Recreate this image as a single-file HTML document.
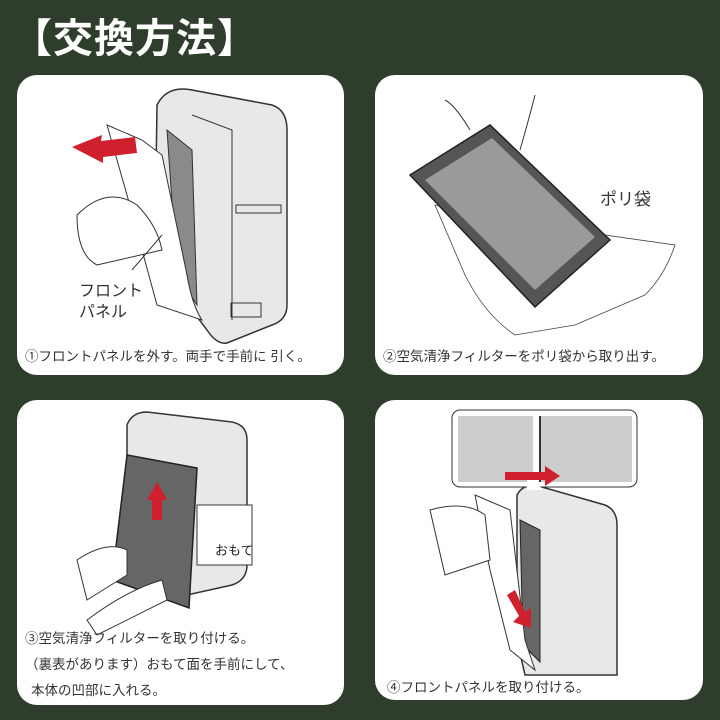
<!DOCTYPE html>
<html><head><meta charset="utf-8"><style>
body{margin:0;width:720px;height:720px;background:#2f3e2c;position:relative;overflow:hidden;font-family:"Liberation Sans","Noto Sans CJK JP",sans-serif}
.t{position:absolute;left:12px;top:6px;color:#fff;font-size:40px;font-weight:bold;letter-spacing:1px}
.p{position:absolute;background:#fff;border-radius:20px;overflow:hidden}
.c{position:absolute;font-size:13.5px;color:#333;white-space:nowrap}
svg{position:absolute;left:0;top:0}
</style></head><body>
<div class="t">【交換方法】</div>

<div class="p" style="left:17px;top:75px;width:327px;height:300px">
<svg width="327" height="300">
<path d="M140 30 Q150 10 175 15 L255 30 Q270 35 270 55 L270 230 Q270 245 255 250 L210 268 Q200 270 190 255 L145 195 Q138 185 138 170 Z" fill="#e8e8e8" stroke="#333" stroke-width="1.5"/>
<path d="M175 40 L215 55 L215 245" fill="none" stroke="#333"/>
<path d="M150 55 L175 75 L180 230 L160 200 Z" fill="#8a8a8a" stroke="#333"/>
<path d="M90 50 L125 65 L145 80 L170 200 Q175 230 185 245 L140 230 L110 120 Z" fill="#fff" stroke="#333"/>
<path d="M60 140 Q90 110 120 130 Q140 150 145 175 L80 190 Q60 180 60 140Z" fill="#fff" stroke="#333"/>
<polygon points="55,72 85,60 84,66 118,62 120,78 86,82 86,88" fill="#d0202e"/>
<rect x="219" y="130" width="45" height="8" fill="none" stroke="#333"/>
<rect x="214" y="228" width="30" height="14" fill="none" stroke="#333"/>
<line x1="115" y1="195" x2="145" y2="160" stroke="#333"/>
<text x="62" y="221" font-size="16" fill="#333" font-family="Liberation Sans,Noto Sans CJK JP,sans-serif">フロント</text>
<text x="62" y="242" font-size="16" fill="#333" font-family="Liberation Sans,Noto Sans CJK JP,sans-serif">パネル</text>
</svg>
<div class="c" style="left:8px;top:270px">①フロントパネルを外す。両手で手前に 引く。</div>
</div>

<div class="p" style="left:375px;top:75px;width:328px;height:300px">
<svg width="328" height="300">
<path d="M60 130 L160 150 L300 170 Q290 200 270 220 L200 250 L140 260 Q110 240 90 200Z" fill="#fff" stroke="#444" stroke-width="0.8"/>
<polygon points="35,100 115,50 235,165 160,232" fill="#555" stroke="#222" stroke-width="1.5"/>
<polygon points="50,105 117,63 220,162 160,215" fill="#9a9a9a"/>
<path d="M95 55 Q80 30 70 25 M145 75 Q155 40 160 20" fill="none" stroke="#333"/>
<text x="225" y="130" font-size="17" fill="#333" font-family="Liberation Sans,Noto Sans CJK JP,sans-serif">ポリ袋</text>
</svg>
<div class="c" style="left:8px;top:270px">②空気清浄フィルターをポリ袋から取り出す。</div>
</div>

<div class="p" style="left:17px;top:400px;width:327px;height:305px">
<svg width="327" height="305">
<path d="M110 25 Q115 12 130 12 L215 22 Q230 25 230 40 L230 165 Q230 180 215 185 L170 195 L110 175 Z" fill="#e8e8e8" stroke="#333" stroke-width="1.5"/>
<polygon points="110,55 180,68 172,208 95,180" fill="#666" stroke="#222" stroke-width="1.5"/>
<polygon points="130,100 140,82 150,100 145,100 145,120 135,120 135,100" fill="#d0202e"/>
<rect x="180" y="105" width="55" height="60" fill="#fff" stroke="#333"/>
<text x="198" y="155" font-size="13" fill="#222" font-family="Liberation Sans,Noto Sans CJK JP,sans-serif">おもて</text>
<path d="M60 160 Q90 140 110 150 L110 175 L70 200 Z M70 220 Q110 190 145 180 L150 200 L80 235 Z" fill="#fff" stroke="#333"/>
</svg>
<div class="c" style="left:8px;top:227px">③空気清浄フィルターを取り付ける。</div>
<div class="c" style="left:8px;top:253px">（裏表があります）おもて面を手前にして、</div>
<div class="c" style="left:14px;top:279px">本体の凹部に入れる。</div>
</div>

<div class="p" style="left:375px;top:400px;width:328px;height:300px">
<svg width="328" height="300">
<path d="M142 95 Q147 85 160 85 L230 105 Q242 110 242 125 L242 275 L150 275 L142 240 Z" fill="#e8e8e8" stroke="#333" stroke-width="1.5"/>
<polygon points="145,120 165,130 165,262 148,245" fill="#666" stroke="#222"/>
<path d="M100 95 L135 110 L150 240 L160 270 L135 250 L115 170 Z" fill="#fff" stroke="#333"/>
<path d="M55 110 Q90 100 110 115 L115 160 L70 175 Z" fill="#fff" stroke="#333"/>
<rect x="77" y="10" width="185" height="77" rx="8" fill="#fff" stroke="#333"/>
<rect x="83" y="16" width="75" height="66" fill="#ccc"/>
<rect x="165" y="16" width="92" height="66" fill="#ccc"/>
<line x1="165" y1="16" x2="165" y2="82" stroke="#333" stroke-width="2"/>
<polygon points="152,71 152,90 168,90 " fill="#fff"/>
<polygon points="130,72 170,72 170,66 185,76 170,86 170,80 130,80" fill="#d0202e"/>
<polygon points="132,195 140,190 150,212 156,208 156,228 138,222 144,216" fill="#d0202e"/>
</svg>
<div class="c" style="left:12px;top:276px">④フロントパネルを取り付ける。</div>
</div>
</body></html>
